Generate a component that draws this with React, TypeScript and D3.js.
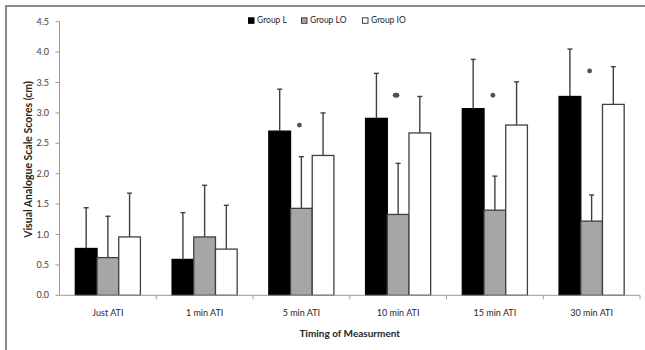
import React from "react";
import * as d3 from "d3";

const categories = ["Just ATI", "1 min ATI", "5 min ATI", "10 min ATI", "15 min ATI", "30 min ATI"];
const groups = ["Group L", "Group LO", "Group IO"];
const groupL = [0.77, 0.59, 2.70, 2.91, 3.07, 3.27];
const groupLO = [0.62, 0.96, 1.43, 1.33, 1.40, 1.22];
const groupIO = [0.96, 0.76, 2.30, 2.67, 2.80, 3.14];
const sdL = [0.67, 0.77, 0.69, 0.74, 0.81, 0.78];
const sdLO = [0.68, 0.85, 0.85, 0.84, 0.56, 0.43];
const sdIO = [0.72, 0.72, 0.70, 0.60, 0.71, 0.62];
const sigLevel = [null, null, 2.80, 3.29, 3.29, 3.69];
const sigCount = [0, 0, 1, 2, 1, 1];
const yTicks = [0, 0.5, 1, 1.5, 2, 2.5, 3, 3.5, 4, 4.5];

const W = 645;
const H = 350;
const left = 59.5;
const right = 640;
const top = 21.7;
const bottom = 295.3;

const fills = ["#000000", "#a6a6a6", "#ffffff"];
const strokes = ["#000000", "#404040", "#404040"];
const FONT = "Lato, 'Open Sans', sans-serif";

export default function App() {
  const x0 = d3.scaleBand<string>().domain(categories).range([left, right]).paddingInner(0).paddingOuter(0);
  const x1 = d3.scaleBand<string>().domain(groups).range([0, x0.bandwidth()]).paddingInner(0).paddingOuter(0.73);
  const y = d3.scaleLinear().domain([0, 4.5]).range([bottom, top]);
  const values = [groupL, groupLO, groupIO];
  const sds = [sdL, sdLO, sdIO];
  const bw = x1.bandwidth();

  return (
    <svg width={W} height={H} style={{ position: "absolute", left: 0, top: 0, background: "#fff" }}>
      <rect x={0} y={0} width={W} height={H} fill="#fff" />
      <path d={`M6,${H} V6 H${W}`} fill="none" stroke="#8a8a8a" strokeWidth={2} />

      {/* y axis */}
      <line x1={left} x2={left} y1={top} y2={bottom} stroke="#9a9a9a" strokeWidth={1} />
      {yTicks.map((t) => (
        <g key={t}>
          <line x1={left - 4} x2={left} y1={y(t)} y2={y(t)} stroke="#9a9a9a" />
          <text x={49} y={y(t)} dy="0.35em" textAnchor="end" fontFamily={FONT} fontSize={9} fill="#404040">
            {t.toFixed(1)}
          </text>
        </g>
      ))}
      <text
        transform={`translate(28,${(top + bottom) / 2 + 1}) rotate(-90)`}
        textAnchor="middle"
        dy="0.35em"
        fontFamily={FONT}
        fontWeight="bold"
        fontSize={10.5}
        fill="#262626"
      >
        Visual Analogue Scale Scores (cm)
      </text>

      {/* bars */}
      {categories.map((c, i) => (
        <g key={c} transform={`translate(${x0(c)},0)`}>
          {groups.map((g, k) => {
            const v = values[k][i];
            const bx = x1(g)!;
            return (
              <rect
                key={g}
                x={bx}
                y={y(v)}
                width={bw}
                height={bottom - y(v)}
                fill={fills[k]}
                stroke={strokes[k]}
                strokeWidth={1.3}
              />
            );
          })}
          {groups.map((g, k) => {
            const v = values[k][i];
            const e = v + sds[k][i];
            const cx = x1(g)! + bw / 2;
            return (
              <g key={g + "e"} stroke="#404040" strokeWidth={1.4}>
                <line x1={cx} x2={cx} y1={y(v)} y2={y(e)} />
                <line x1={cx - 2.5} x2={cx + 2.5} y1={y(e)} y2={y(e)} />
              </g>
            );
          })}
          {sigLevel[i] !== null &&
            d3.range(sigCount[i]).map((j) => (
              <circle
                key={j}
                cx={x1("Group LO")! + bw / 2 - 2 + (j - (sigCount[i] - 1) / 2) * 1.8}
                cy={y(sigLevel[i] as number)}
                r={2.4}
                fill="#505050"
              />
            ))}
        </g>
      ))}

      {/* x axis */}
      <line x1={left} x2={right} y1={bottom} y2={bottom} stroke="#9a9a9a" />
      {categories.map((c, i) => (
        <g key={c}>
          <line x1={x0(c)! + x0.bandwidth()} x2={x0(c)! + x0.bandwidth()} y1={bottom} y2={bottom + 4} stroke="#9a9a9a" />
          <text x={x0(c)! + x0.bandwidth() / 2} y={316} textAnchor="middle" fontFamily={FONT} fontSize={9} fill="#262626">
            {c}
          </text>
        </g>
      ))}
      <text x={(left + right) / 2} y={337} textAnchor="middle" fontFamily={FONT} fontWeight="bold" fontSize={10} fill="#262626">
        Timing of Measurment
      </text>

      {/* legend */}
      {groups.map((g, k) => {
        const lx = [248, 301, 362][k];
        return (
          <g key={g} transform={`translate(${lx},20.5)`}>
            <rect x={0.5} y={-2.7} width={5.5} height={5.5} fill={fills[k]} stroke={strokes[k]} strokeWidth={1} />
            <text x={9} y={0} dy="0.35em" fontFamily={FONT} fontSize={8.5} fill="#262626">
              {g}
            </text>
          </g>
        );
      })}
    </svg>
  );
}
